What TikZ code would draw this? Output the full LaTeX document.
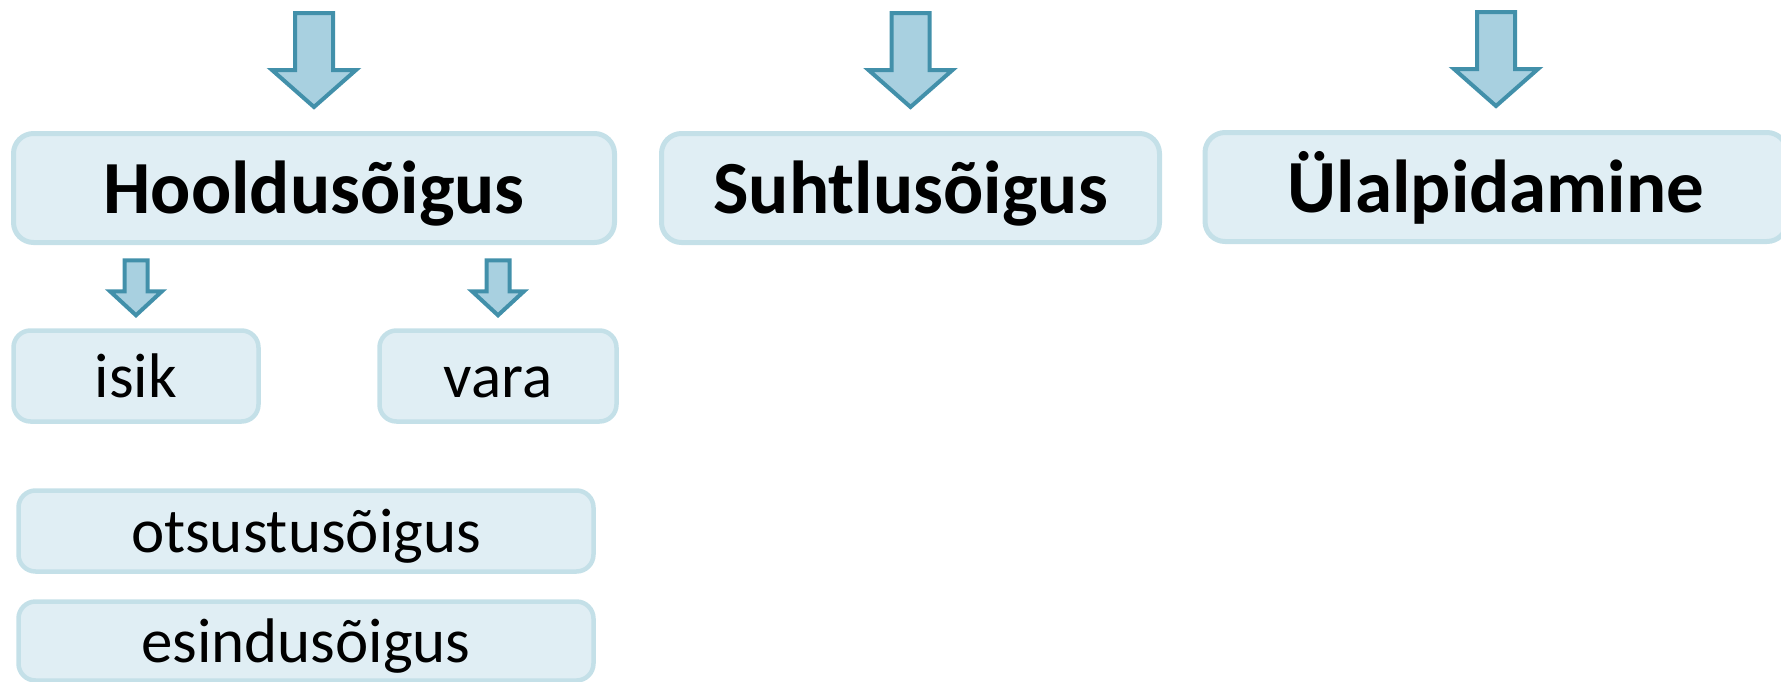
\documentclass[tikz,border=0pt]{standalone}
\usepackage{fontspec}
\setmainfont{Carlito}
\definecolor{boxfill}{HTML}{E0EEF4}
\definecolor{boxline}{HTML}{C4E0E8}
\definecolor{arrfill}{HTML}{A8D0E0}
\definecolor{arrline}{HTML}{4290AA}
\tikzset{
  topbox/.style={draw=boxline, fill=boxfill, line width=5pt, rounded corners=20pt,
    inner sep=0pt, text height=50pt, text depth=0pt, minimum height=109pt,
    font=\fontsize{75}{90}\selectfont\bfseries},
  subbox/.style={draw=boxline, fill=boxfill, line width=4.5pt, rounded corners=17pt,
    inner sep=0pt, text height=42pt, text depth=0pt,
    font=\fontsize{63}{75}\selectfont},
  arrst/.style={draw=arrline, fill=arrfill, line width=4pt, line join=miter},
  bigarrow/.pic={\path[arrst] (0,0) -- (-42,-37) -- (-19,-37) -- (-19,-94) -- (19,-94) -- (19,-37) -- (42,-37) -- cycle;},
  smallarrow/.pic={\path[arrst] (0,0) -- (-26,-24) -- (-11.5,-24) -- (-11.5,-55) -- (11.5,-55) -- (11.5,-24) -- (26,-24) -- cycle;}
}
\begin{document}
\begin{tikzpicture}[x=1pt,y=-1pt]
\useasboundingbox (0,0) rectangle (1781,681);
\node[topbox, minimum width=601pt] (h) at (314,188) {Hooldusõigus};
\node[topbox, minimum width=498pt] (s) at (910.5,188) {Suhtlusõigus};
\node[topbox, minimum width=582pt] (u) at (1496,187) {Ülalpidamine};
\node[subbox, minimum width=245pt, minimum height=91pt] (i) at (136,376) {isik};
\node[subbox, minimum width=237pt, minimum height=91pt] (v) at (498,376) {vara};
\node[subbox, minimum width=575pt, minimum height=81pt] (o) at (306,531) {otsustusõigus};
\node[subbox, minimum width=575pt, minimum height=79pt] (e) at (306,641) {esindusõigus};
\pic at ([yshift=24pt]h.north) {bigarrow};
\pic at ([yshift=24pt]s.north) {bigarrow};
\pic at ([yshift=24pt]u.north) {bigarrow};
\pic at ([yshift=13pt]i.north) {smallarrow};
\pic at ([yshift=13pt]v.north) {smallarrow};
\end{tikzpicture}
\end{document}
